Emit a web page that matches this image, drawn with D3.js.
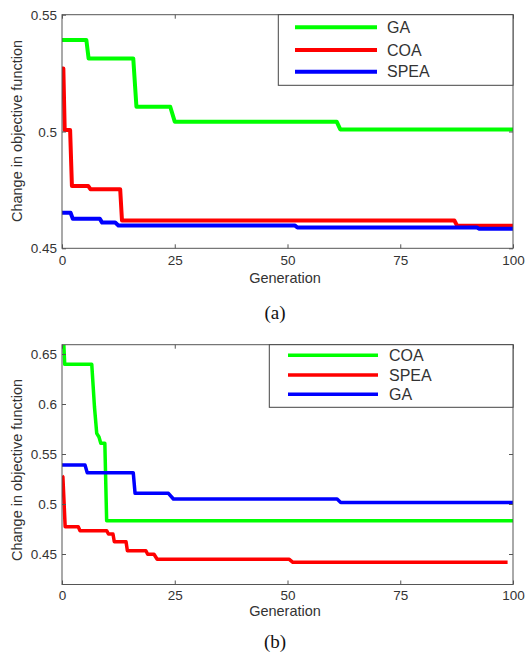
<!DOCTYPE html>
<html><head><meta charset="utf-8">
<script src="https://cdn.jsdelivr.net/npm/d3@7"></script>
<style>
html,body{margin:0;padding:0;background:#fff;}
svg{display:block;}
</style></head>
<body>
<svg id="chart" width="526" height="655"></svg>
<script>
// ---------- DATA ----------
const xTicks = [0, 25, 50, 75, 100];

// Panel (a)
const aYTicks = [0.45, 0.5, 0.55];
const aGA   = [[0,0.5392],[5.4,0.5392],[5.9,0.5313],[15.8,0.5313],[16.5,0.5106],[24,0.5106],[25,0.5042],[60.9,0.5042],[61.7,0.5009],[100,0.5009]];
const aCOA  = [[0,0.527],[0.3,0.527],[0.6,0.5006],[1.8,0.5006],[2.2,0.4767],[5.8,0.4767],[6.3,0.4753],[12.9,0.4753],[13.3,0.4619],[87,0.4619],[87.6,0.4597],[100,0.4597]];
const aSPEA = [[0,0.4652],[1.9,0.4652],[2.4,0.4626],[8.4,0.4626],[8.9,0.461],[11.8,0.461],[12.5,0.4598],[51.6,0.4598],[52.2,0.4589],[92,0.4589],[92.5,0.4584],[100,0.4584]];
const aLegend = ["GA", "COA", "SPEA"];

// Panel (b)
const bYTicks = [0.45, 0.5, 0.55, 0.6, 0.65];
const bCOA  = [[0.2,0.68],[0.6,0.6397],[6.6,0.6397],[7.2,0.597],[7.7,0.5707],[8.2,0.567],[8.6,0.5607],[9.5,0.5607],[9.9,0.4833],[100,0.4833]];
const bSPEA = [[0,0.528],[0.2,0.527],[0.7,0.4773],[3.6,0.4773],[4,0.4733],[9.9,0.4733],[10.3,0.47],[11.3,0.47],[11.6,0.4623],[14.2,0.4623],[14.5,0.4533],[18.6,0.4533],[19,0.4497],[20.4,0.4497],[21.1,0.4447],[50.4,0.4447],[51.2,0.4417],[98.8,0.4417]];
const bGA   = [[0,0.539],[5.1,0.539],[5.6,0.5313],[15.8,0.5313],[16.2,0.5107],[23.6,0.5107],[24.7,0.505],[61,0.505],[61.8,0.5015],[100,0.5015]];
const bLegend = ["COA", "SPEA", "GA"];

const seriesColors = ["#00ff00", "#ff0000", "#0000ff"];

// ---------- DRAW ----------
const svg = d3.select("#chart");
const L = 62, R = 513;

function panel(o) {
  const g = svg.append("g");
  const x = d3.scaleLinear().domain([0, 100]).range([L, R]);
  const y = d3.scaleLinear().domain(o.yDomain).range([o.bottom, o.top]);
  const clipId = "clip" + o.id;
  g.append("clipPath").attr("id", clipId).append("rect")
    .attr("x", L).attr("y", o.top).attr("width", R - L).attr("height", o.bottom - o.top);

  const line = d3.line().x(d => x(d[0])).y(d => y(d[1]));
  const lines = g.append("g").attr("clip-path", `url(#${clipId})`);
  o.series.forEach((s, i) => {
    lines.append("path").attr("d", line(s)).attr("fill", "none")
      .attr("stroke", seriesColors[i]).attr("stroke-width", o.lw)
      .attr("stroke-linejoin", "round");
  });

  const axColor = "#555";
  const tk = 4;
  g.append("rect").attr("x", L).attr("y", o.top).attr("width", R - L).attr("height", o.bottom - o.top)
    .attr("fill", "none").attr("stroke", axColor).attr("stroke-width", 1);

  const xb = d3.axisBottom(x).tickValues(xTicks).tickSizeInner(-tk).tickSizeOuter(0).tickPadding(8).tickFormat(d => String(d));
  const xt = d3.axisTop(x).tickValues(xTicks).tickSizeInner(-tk).tickSizeOuter(0).tickFormat("");
  const yl = d3.axisLeft(y).tickValues(o.yTicks).tickSizeInner(-tk).tickSizeOuter(0).tickPadding(5).tickFormat(d => String(d));
  const yr = d3.axisRight(y).tickValues(o.yTicks).tickSizeInner(-tk).tickSizeOuter(0).tickFormat("");
  const styleAxis = sel => {
    sel.select(".domain").remove();
    sel.selectAll("line").attr("stroke", axColor);
    sel.selectAll("text").attr("fill", "#333").style("font-family", "Liberation Sans, Arial, sans-serif").style("font-size", "13.5px");
  };
  g.append("g").attr("transform", `translate(0,${o.bottom})`).call(xb).call(styleAxis)
    .selectAll("text").attr("dy", null).attr("y", o.xTickY).attr("dominant-baseline", "central");
  g.append("g").attr("transform", `translate(0,${o.top})`).call(xt).call(styleAxis);
  g.append("g").attr("transform", `translate(${L},0)`).call(yl).call(styleAxis)
    .selectAll("text").attr("dy", null).attr("dominant-baseline", "central");
  g.append("g").attr("transform", `translate(${R},0)`).call(yr).call(styleAxis);

  g.append("text").attr("x", 285).attr("y", o.xLabelY).attr("text-anchor", "middle")
    .attr("dominant-baseline", "central").attr("fill", "#333")
    .style("font-family", "Liberation Sans, Arial, sans-serif").style("font-size", "14.5px").text("Generation");
  g.append("text").attr("transform", `translate(17,${o.yLabelY}) rotate(-90)`).attr("text-anchor", "middle")
    .attr("dominant-baseline", "central").attr("fill", "#333")
    .style("font-family", "Liberation Sans, Arial, sans-serif").style("font-size", "14.5px").text("Change in objective function");
  g.append("text").attr("x", 275).attr("y", o.capY).attr("text-anchor", "middle")
    .attr("dominant-baseline", "central").attr("fill", "#111")
    .style("font-family", "Liberation Serif, Times New Roman, serif").style("font-size", "19px").text(o.caption);

  const lg = g.append("g");
  lg.append("rect").attr("x", o.leg.x0).attr("y", o.top).attr("width", R - o.leg.x0).attr("height", o.leg.y1 - o.top)
    .attr("fill", "#fff").attr("stroke", "#444").attr("stroke-width", 1);
  o.legend.forEach((name, i) => {
    const yy = o.leg.rows[i];
    lg.append("line").attr("x1", o.leg.l0).attr("x2", o.leg.l1).attr("y1", yy).attr("y2", yy)
      .attr("stroke", seriesColors[i]).attr("stroke-width", o.lw);
    lg.append("text").attr("x", o.leg.tx).attr("y", yy).attr("dominant-baseline", "central")
      .attr("fill", "#333").style("font-family", "Liberation Sans, Arial, sans-serif").style("font-size", "16px").text(name);
  });
}

panel({
  id: "a", top: 14.7, bottom: 248.3, yDomain: [0.45, 0.55], yTicks: aYTicks,
  series: [aGA, aCOA, aSPEA], legend: aLegend, lw: 4, xTickY: 12,
  xLabelY: 278, yLabelY: 131, capY: 312, caption: "(a)",
  leg: { x0: 278.3, y1: 85.3, rows: [27.3, 50, 71.7], l0: 295, l1: 377, tx: 387 }
});
panel({
  id: "b", top: 344.7, bottom: 584.5, yDomain: [0.4195, 0.6593], yTicks: bYTicks,
  series: [bCOA, bSPEA, bGA], legend: bLegend, lw: 3.5, xTickY: 11,
  xLabelY: 611, yLabelY: 470, capY: 641, caption: "(b)",
  leg: { x0: 269.3, y1: 407.3, rows: [355.3, 375, 394.3], l0: 288, l1: 378, tx: 389 }
});
</script>
</body></html>
